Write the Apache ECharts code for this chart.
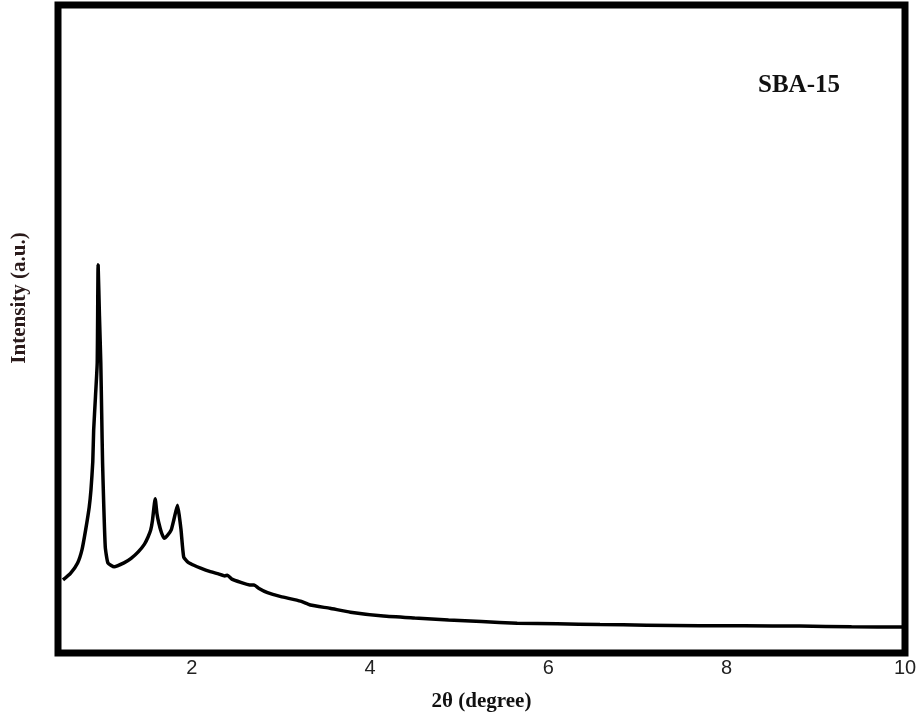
<!DOCTYPE html>
<html>
<head>
<meta charset="utf-8">
<script src="https://cdn.jsdelivr.net/npm/echarts@6/dist/echarts.min.js"></script>
<style>
  html, body { margin: 0; padding: 0; background: #fff; }
  #chart { width: 921px; height: 720px; }
</style>
</head>
<body>
<div id="chart"></div>
<script>
// XRD pattern (2theta, intensity in arbitrary units)
var twoTheta = [0.556, 0.64, 0.72, 0.77, 0.81, 0.85, 0.87, 0.89, 0.90, 0.92, 0.94, 0.95, 0.965, 0.98, 0.99, 1.0, 1.03, 1.06, 1.13, 1.24, 1.32, 1.40, 1.47, 1.51, 1.54, 1.56, 1.59, 1.61, 1.63, 1.66, 1.69, 1.73, 1.77, 1.80, 1.84, 1.86, 1.88, 1.91, 1.96, 2.03, 2.10, 2.20, 2.30, 2.37, 2.40, 2.45, 2.55, 2.65, 2.70, 2.75, 2.85, 3.0, 3.22, 3.33, 3.55, 3.78, 4.15, 4.5, 4.88, 5.25, 5.65, 6.1, 6.58, 7.1, 7.7, 8.2, 8.82, 9.4, 10.0];
var intensity = [11.3, 12.3, 13.9, 16.0, 19.0, 22.5, 25.2, 29.5, 34.4, 39.5, 44.8, 59.9, 52.0, 44.8, 37.0, 29.3, 16.4, 13.9, 13.3, 13.9, 14.6, 15.6, 16.8, 17.9, 19.0, 20.5, 23.8, 21.5, 20.1, 18.6, 17.7, 18.2, 19.0, 20.6, 22.8, 21.2, 19.0, 14.8, 14.0, 13.5, 13.1, 12.6, 12.2, 11.9, 12.0, 11.4, 10.9, 10.5, 10.5, 10.0, 9.3, 8.7, 8.0, 7.4, 6.9, 6.3, 5.7, 5.4, 5.1, 4.85, 4.6, 4.5, 4.4, 4.3, 4.2, 4.2, 4.15, 4.05, 4.0];
var xTicks = [2, 4, 6, 8, 10];

var chart = echarts.init(document.getElementById('chart'));

var points = twoTheta.map(function (t, i) { return [t, intensity[i]]; });

var option = {
  animation: false,
  backgroundColor: '#fff',
  grid: {
    left: 58,
    right: 16,
    top: 5,
    bottom: 67,
    show: true,
    borderColor: '#000',
    borderWidth: 7
  },
  xAxis: {
    type: 'value',
    min: 0.5,
    max: 10,
    name: '2θ (degree)',
    nameLocation: 'middle',
    nameGap: 38,
    nameTextStyle: {
      fontFamily: 'Liberation Serif',
      fontWeight: 'bold',
      fontSize: 21,
      color: '#111'
    },
    axisLine: { show: false },
    axisTick: { show: false },
    splitLine: { show: false },
    axisLabel: {
      customValues: xTicks,
      margin: 5,
      fontFamily: 'Liberation Sans',
      fontSize: 20,
      color: '#222'
    }
  },
  yAxis: {
    type: 'value',
    min: 0,
    max: 100,
    axisLine: { show: false },
    axisTick: { show: false },
    axisLabel: { show: false },
    splitLine: { show: false }
  },
  graphic: [
    {
      type: 'text',
      x: 20,
      y: 298,
      rotation: Math.PI / 2,
      style: {
        text: 'Intensity (a.u.)',
        fontFamily: 'Liberation Serif',
        fontWeight: 'bold',
        fontSize: 21,
        fill: '#2a1a1a',
        align: 'center',
        verticalAlign: 'middle'
      }
    },
    {
      type: 'text',
      x: 799,
      y: 86,
      style: {
        text: 'SBA-15',
        fontFamily: 'Liberation Serif',
        fontWeight: 'bold',
        fontSize: 25,
        fill: '#111',
        align: 'center',
        verticalAlign: 'middle'
      }
    }
  ],
  series: [
    {
      type: 'line',
      data: points,
      showSymbol: false,
      smooth: 0.15,
      lineStyle: { color: '#000', width: 3.5 }
    }
  ]
};

chart.setOption(option);
</script>
</body>
</html>
